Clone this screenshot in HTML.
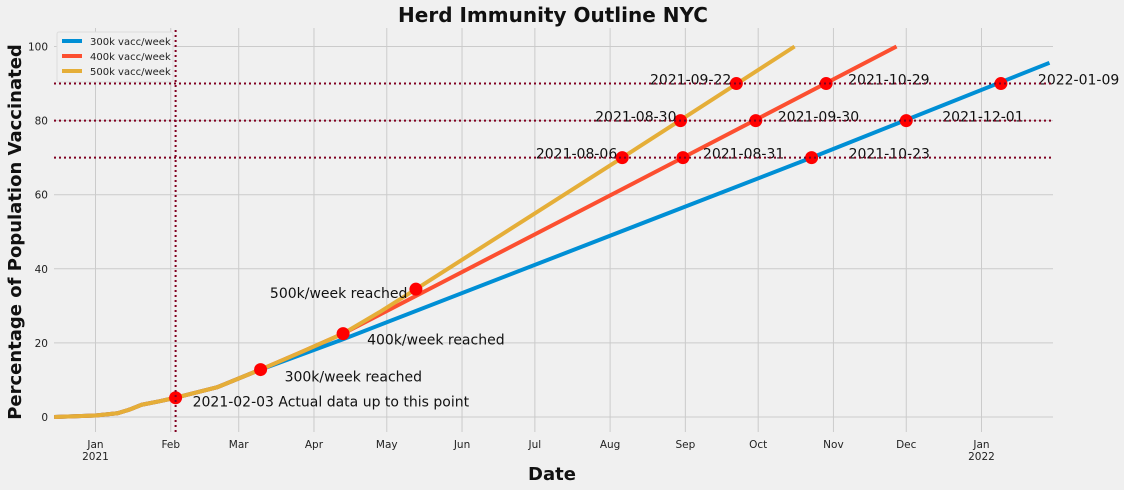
<!DOCTYPE html>
<html><head><meta charset="utf-8"><style>
html,body{margin:0;padding:0;background:#f0f0f0;}
svg{display:block;font-family:"DejaVu Sans","Liberation Sans",sans-serif;}
</style></head><body>
<svg id="chart" width="1124" height="490" viewBox="0 0 1124 490">
<rect x="0" y="0" width="1124" height="490" fill="#f0f0f0"/>
<g id="grid"></g>
<g id="series"></g>
<g id="refs"></g>
<g id="marks"></g>
<g id="ticks" font-size="10.5" fill="#222"></g>
<text x="553" y="22" text-anchor="middle" font-size="20" font-weight="bold" fill="#111">Herd Immunity Outline NYC</text>
<text x="552" y="480" text-anchor="middle" font-size="18" font-weight="bold" fill="#111">Date</text>
<text transform="translate(21,232) rotate(-90)" text-anchor="middle" font-size="18" font-weight="bold" fill="#111">Percentage of Population Vaccinated</text>
<g>
<rect x="57" y="32" width="116" height="50" fill="#f0f0f0" stroke="#dcdcdc" rx="2"/>
<g><line x1="62" y1="41" x2="82" y2="41" stroke="#008fd5" stroke-width="4"/><text x="90" y="45" font-size="10" fill="#222">300k vacc/week</text></g>
<g><line x1="62" y1="56" x2="82" y2="56" stroke="#fc4f30" stroke-width="4"/><text x="90" y="60" font-size="10" fill="#222">400k vacc/week</text></g>
<g><line x1="62" y1="71" x2="82" y2="71" stroke="#e5ae38" stroke-width="4"/><text x="90" y="75" font-size="10" fill="#222">500k vacc/week</text></g>
</g>
</svg>
<script>
const common = [["2020-12-15",0],["2021-01-01",0.4],["2021-01-10",1.0],["2021-01-15",2.0],["2021-01-20",3.3],["2021-01-27",4.2],["2021-02-03",5.2],["2021-02-20",8.0],["2021-03-10",12.8]];
const dates300 = ["2021-04-13","2021-10-23","2022-01-29"];
const vals300 = [21.0,70,95.6];
const dates400 = ["2021-03-27","2021-04-13","2021-08-31","2021-11-27"];
const vals400 = [17.6,22.5,70,100];
const dates500 = ["2021-03-27","2021-04-13","2021-04-28","2021-05-13","2021-08-06","2021-10-16"];
const vals500 = [17.6,22.5,28.3,34.5,70,100];
const hLevels = [70,80,90];
const yTicks = [0,20,40,60,80,100];
const monthTicks = ["2021-01-01","2021-02-01","2021-03-01","2021-04-01","2021-05-01","2021-06-01","2021-07-01","2021-08-01","2021-09-01","2021-10-01","2021-11-01","2021-12-01","2022-01-01"];
const monthLabels = ["Jan","Feb","Mar","Apr","May","Jun","Jul","Aug","Sep","Oct","Nov","Dec","Jan"];
const yearLabels = {0:"2021",12:"2022"};
const ptDates = ["2021-02-03","2021-03-10","2021-04-13","2021-05-13","2021-08-06","2021-08-31","2021-10-23","2021-08-30","2021-09-30","2021-12-01","2021-09-22","2021-10-29","2022-01-09"];
const ptVals = [5.2,12.8,22.5,34.5,70,70,70,80,80,80,90,90,90];
const ptLabels = ["2021-02-03 Actual data up to this point","300k/week reached","400k/week reached","500k/week reached","2021-08-06","2021-08-31","2021-10-23","2021-08-30","2021-09-30","2021-12-01","2021-09-22","2021-10-29","2022-01-09"];
const ptDx = [17,24,24,-146,-5,20,37,-4,22,36,-5,22,37];
const ptDy = [9,12,11,9,1,1,1,1,1,1,1,1,1];
const ptAnchor = ["start","start","start","start","end","start","start","end","start","start","end","start","start"];
const cutoff = "2021-02-03";

const NS="http://www.w3.org/2000/svg";
const x0=54,x1=1053,yTop=28,yBot=432;
const base=Date.UTC(2021,0,1);
function day(s){const p=s.split("-");return (Date.UTC(+p[0],+p[1]-1,+p[2])-base)/86400000;}
function X(s){return 95.5+day(s)*2.4274;}
function Y(v){return 417-v*3.705;}
function mk(tag,attrs,parent){const e=document.createElementNS(NS,tag);for(const k in attrs)e.setAttribute(k,attrs[k]);parent.appendChild(e);return e;}
const grid=document.getElementById("grid"),series=document.getElementById("series"),refs=document.getElementById("refs"),marks=document.getElementById("marks"),ticks=document.getElementById("ticks");

yTicks.forEach(v=>{
  const l=mk("line",{x1:x0,x2:x1,y1:Y(v),y2:Y(v),stroke:"#cbcbcb","stroke-width":1},grid);
  
  
  const t=mk("text",{x:48,y:Y(v)+4,"text-anchor":"end"},ticks);t.textContent=v;
  
  
});
monthTicks.forEach((d,i)=>{
  const l=mk("line",{x1:X(d),x2:X(d),y1:yTop,y2:yBot,stroke:"#cbcbcb","stroke-width":1},grid);
  
  
  const t=mk("text",{x:X(d),y:448,"text-anchor":"middle"},ticks);t.textContent=monthLabels[i];
  
  
  if(yearLabels[i]){const y=mk("text",{x:X(d),y:460,"text-anchor":"middle"},ticks);y.textContent=yearLabels[i];
  
  }
});
function line(dates,vals,color,name){
  const pts=common.map(p=>X(p[0])+","+Y(p[1]));
  dates.forEach((d,i)=>pts.push(X(d)+","+Y(vals[i])));
  const p=mk("polyline",{points:pts.join(" "),fill:"none",stroke:color,"stroke-width":4,"stroke-linejoin":"round"},series);
  
  
}
line(dates300,vals300,"#008fd5","line-300k");
line(dates400,vals400,"#fc4f30","line-400k");
line(dates500,vals500,"#e5ae38","line-500k");

ptDates.forEach((d,i)=>{
  const c=mk("circle",{cx:X(d),cy:Y(ptVals[i]),r:6.5,fill:"#ff0000"},marks);
  
  
  const t=mk("text",{x:X(d)+ptDx[i],y:Y(ptVals[i])+ptDy[i],"text-anchor":ptAnchor[i],"font-size":14,fill:"#111"},marks);
  t.textContent=ptLabels[i];
  
  
});
hLevels.forEach(v=>{
  const l=mk("line",{x1:x0,x2:x1,y1:Y(v),y2:Y(v),stroke:"#800020","stroke-width":2,"stroke-dasharray":"2,3"},refs);
  
  
});
const vl=mk("line",{x1:X(cutoff),x2:X(cutoff),y1:yTop+2,y2:yBot,stroke:"#800020","stroke-width":2,"stroke-dasharray":"2,3"},refs);


document.getElementById("chart").appendChild(refs);
</script>
</body></html>
